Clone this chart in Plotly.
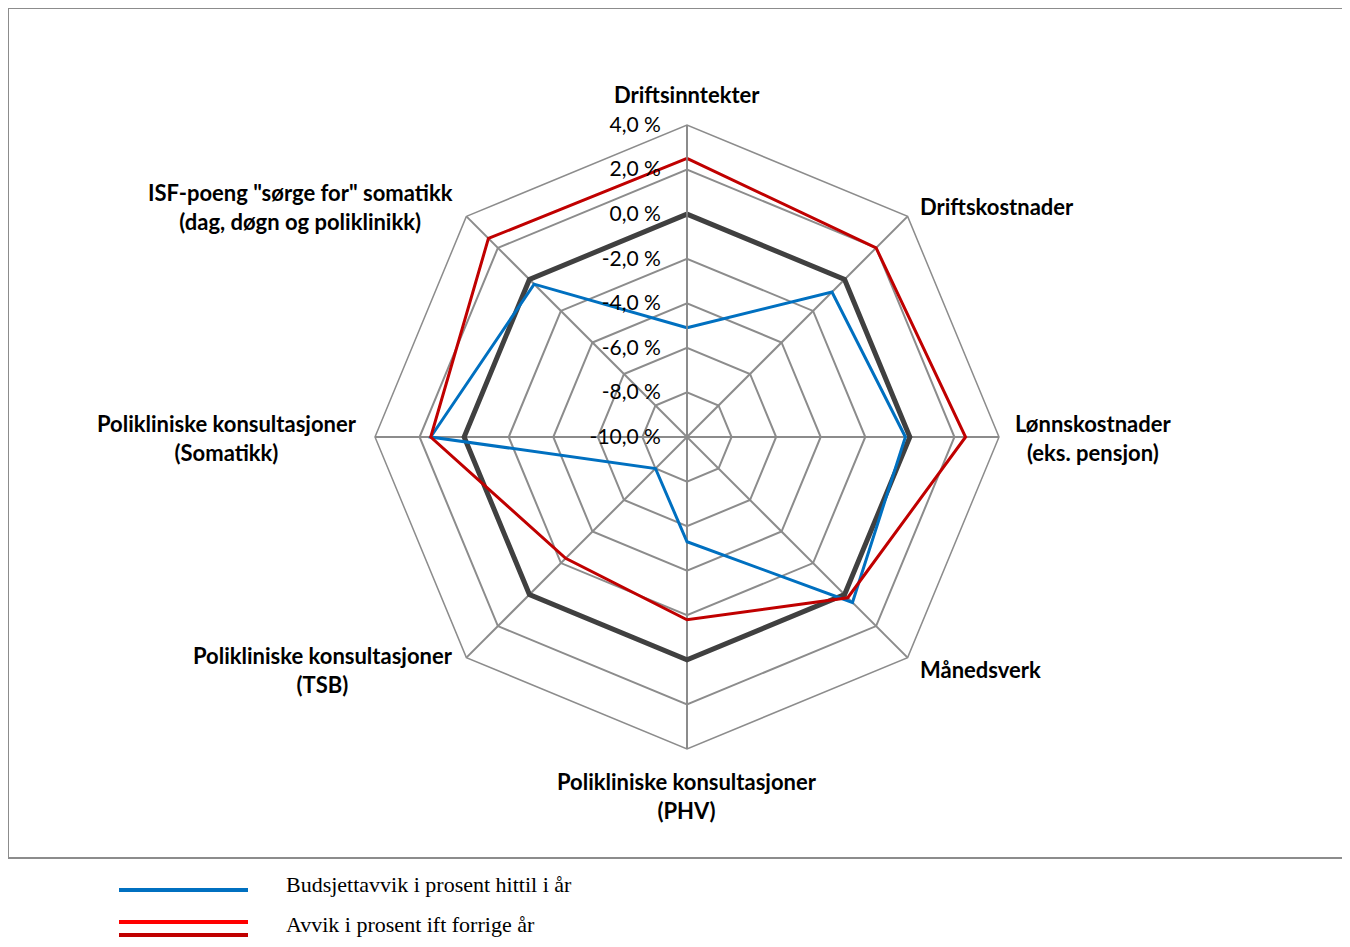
import plotly.graph_objects as go

# ---------------- data ----------------
categories = [
    "Driftsinntekter",
    "Driftskostnader",
    "Lønnskostnader\n(eks. pensjon)",
    "Månedsverk",
    "Polikliniske konsultasjoner\n(PHV)",
    "Polikliniske konsultasjoner\n(TSB)",
    "Polikliniske konsultasjoner\n(Somatikk)",
    "ISF-poeng \"sørge for\" somatikk\n(dag, døgn og poliklinikk)",
]
budsjettavvik = [-5.1, -0.8, -0.2, 0.5, -5.3, -8.0, 1.5, -0.3]
avvik_forrige_aar = [2.5, 2.0, 2.5, 0.2, -1.8, -2.3, 1.5, 2.6]
null_linje = [0, 0, 0, 0, 0, 0, 0, 0]
tick_vals = [-10, -8, -6, -4, -2, 0, 2, 4]
tick_text = [f"{v:.1f}".replace(".", ",") + " %" for v in tick_vals]
legend_names = ["Budsjettavvik i prosent hittil i år", "Avvik i prosent ift forrige år"]

# ---------------- layout constants ----------------
# the page body has an 8px default margin; the figure is sized so it fits the window
OFF = 8
W, H = 1350 - 2 * OFF, 947 - 2 * OFF
CX, CY, R = 687, 437, 312


def px(x):
    return (x - OFF) / W


def py(y):
    return 1 - (y - OFF) / H


theta = [c.replace("\n", " ") for c in categories]
theta_c = theta + [theta[0]]


def closed(v):
    return list(v) + [v[0]]


fig = go.Figure()
fig.add_trace(go.Scatterpolar(
    r=closed(null_linje), theta=theta_c, mode="lines+markers",
    line=dict(color="#404040", width=5),
    marker=dict(color="#9BBB59", size=5, symbol="square"),
    showlegend=False, hoverinfo="skip"))
fig.add_trace(go.Scatterpolar(
    r=closed(budsjettavvik), theta=theta_c, mode="lines+markers",
    line=dict(color="#0070C0", width=3),
    marker=dict(color="#0070C0", size=5),
    name=legend_names[0], showlegend=False))
fig.add_trace(go.Scatterpolar(
    r=closed(avvik_forrige_aar), theta=theta_c, mode="lines+markers",
    line=dict(color="#C00000", width=3),
    marker=dict(color="#C00000", size=5),
    name=legend_names[1], showlegend=False))

grid = "#8C8C8C"
fig.update_layout(
    width=W, height=H,
    margin=dict(l=0, r=0, t=0, b=0),
    paper_bgcolor="white",
    showlegend=False,
    polar=dict(
        domain=dict(x=[px(CX - R), px(CX + R)], y=[py(CY + R), py(CY - R)]),
        bgcolor="white",
        gridshape="linear",
        angularaxis=dict(
            rotation=90, direction="clockwise",
            showticklabels=False, ticks="",
            showline=True, linecolor=grid, linewidth=1.5,
            showgrid=True, gridcolor=grid, gridwidth=1.5,
        ),
        radialaxis=dict(
            range=[-10, 4], tickvals=tick_vals, ticktext=tick_text,
            angle=90, tickangle=90, side="counterclockwise",
            showline=True, linecolor=grid, linewidth=1.5,
            showgrid=True, gridcolor=grid, gridwidth=1.5,
            ticks="outside", ticklen=18, tickcolor="rgba(0,0,0,0)",
            tickfont=dict(family="Lato", size=21, color="#000000"),
        ),
    ),
)

# category labels
label_pos = [
    (687, 95, "center"),
    (918, 207, "left"),
    (1013, 438, "left"),
    (918, 669, "left"),
    (687, 796, "center"),
    (455, 670, "right"),
    (359, 438, "right"),
    (455, 207, "right"),
]
for cat, (x, y, anchor) in zip(categories, label_pos):
    fig.add_annotation(
        x=px(x), y=py(y), xref="paper", yref="paper",
        text="<br>".join("<b>" + ln + "</b>" for ln in cat.split("\n")),
        showarrow=False, align="center",
        xanchor=anchor, yanchor="middle",
        font=dict(family="Lato", size=22, color="#000000"),
    )

# chart-area border
fig.add_shape(type="rect", xref="paper", yref="paper",
              x0=px(8), x1=px(1352), y0=py(858), y1=py(8),
              line=dict(color="#8C8C8C", width=2), fillcolor="rgba(0,0,0,0)")

# legend (drawn manually to match long line samples)
legend_lines = [(890, "#0070C0"), (922, "#FF0000"), (935, "#C00000")]
for y, col in legend_lines:
    fig.add_shape(type="line", xref="paper", yref="paper",
                  x0=px(119), x1=px(248), y0=py(y), y1=py(y),
                  line=dict(color=col, width=4))
fig.add_annotation(x=px(284), y=py(884), xref="paper", yref="paper",
                   text=legend_names[0], showarrow=False, xanchor="left", yanchor="middle",
                   font=dict(family="Liberation Serif", size=22, color="#000000"))
fig.add_annotation(x=px(284), y=0, xref="paper", yref="paper",
                   text=legend_names[1], showarrow=False, xanchor="left", yanchor="bottom",
                   font=dict(family="Liberation Serif", size=22, color="#000000"))

fig.write_html("out.html")
